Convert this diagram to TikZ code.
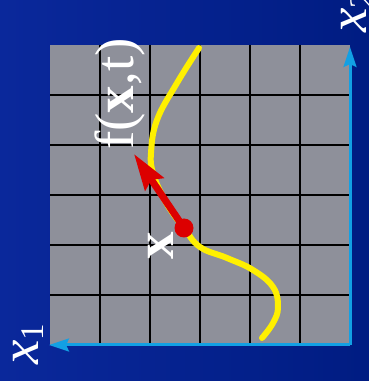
\documentclass[tikz,border=0pt]{standalone}
\usepackage{fontspec}
\setmainfont{Liberation Serif}
\usepackage{xcolor}
\definecolor{DeepBlue}{RGB}{10,40,155}
\definecolor{NightBlue}{RGB}{0,28,130}
\definecolor{GridGray}{RGB}{142,144,154}
\definecolor{AxisBlue}{RGB}{18,160,228}
\definecolor{PathYellow}{RGB}{255,240,0}
\definecolor{FieldRed}{RGB}{220,0,0}
\usepackage{tikz}
\usetikzlibrary{arrows.meta}

\begin{document}
\begin{tikzpicture}[x=1pt,y=1pt]
\tikzset{
  axisline/.style={AxisBlue,line width=3pt,-{Stealth[length=20pt,width=13pt,inset=3pt]}},
  gridline/.style={black,line width=1.3pt},
  trajectory/.style={PathYellow,line width=6pt,line cap=round},
  fieldarrow/.style={FieldRed,line width=7pt,-{Stealth[length=36pt,width=22pt,inset=5pt]}},
  bigtext/.style={text=white,rotate=90,inner sep=0pt,anchor=base west,font=\fontsize{55}{58}\selectfont}
}
% background and frame of the picture
\fill[left color=DeepBlue,right color=NightBlue] (0,0) rectangle (369,381);
\useasboundingbox (0,0) rectangle (369,381);

% state plane with its grid
\fill[GridGray] (50,36) rectangle (350,336);
\foreach \k in {1,...,5}{
  \draw[gridline] (50+50*\k,36) -- ++(0,300);
  \draw[gridline] (50,36+50*\k) -- ++(300,0);
}

% axes
\coordinate (o) at (350,36);
\coordinate (xoneend) at (49,36);
\coordinate (xtwoend) at (350,334);
\draw[axisline] (o) -- (xoneend);
\draw[axisline] (o) -- (xtwoend);
\node[bigtext] (xonelabel) at (38,16) {\textit{x}\raisebox{-6pt}{\fontsize{33}{35}\selectfont 1}};
\node[bigtext] (xtwolabel) at (366,348) {\textit{x}\raisebox{-6pt}{\fontsize{33}{35}\selectfont 2}};

% trajectory through the state x
\draw[trajectory] plot[smooth,tension=0.7] coordinates {(199,333) (177,298) (157,261) (151,228) (153,208)
  (162,186) (172,169) (184,153) (200,134) (227,123) (253,111) (273,94) (278,74) (273,58) (262,43)};

% vector field at x
\coordinate (xstate) at (184,153);
\coordinate (ftip) at (134,227);
\draw[fieldarrow] (xstate) -- (ftip);
\node[circle,fill=FieldRed,minimum size=19pt,inner sep=0pt] (xdot) at (xstate) {};
\node[bigtext] (flabel) at (133,231) {f(\textbf{x},t)};
\node[bigtext,font=\fontsize{55}{58}\selectfont\bfseries] (xlabel) at (173,121) {x};
\end{tikzpicture}
\end{document}
